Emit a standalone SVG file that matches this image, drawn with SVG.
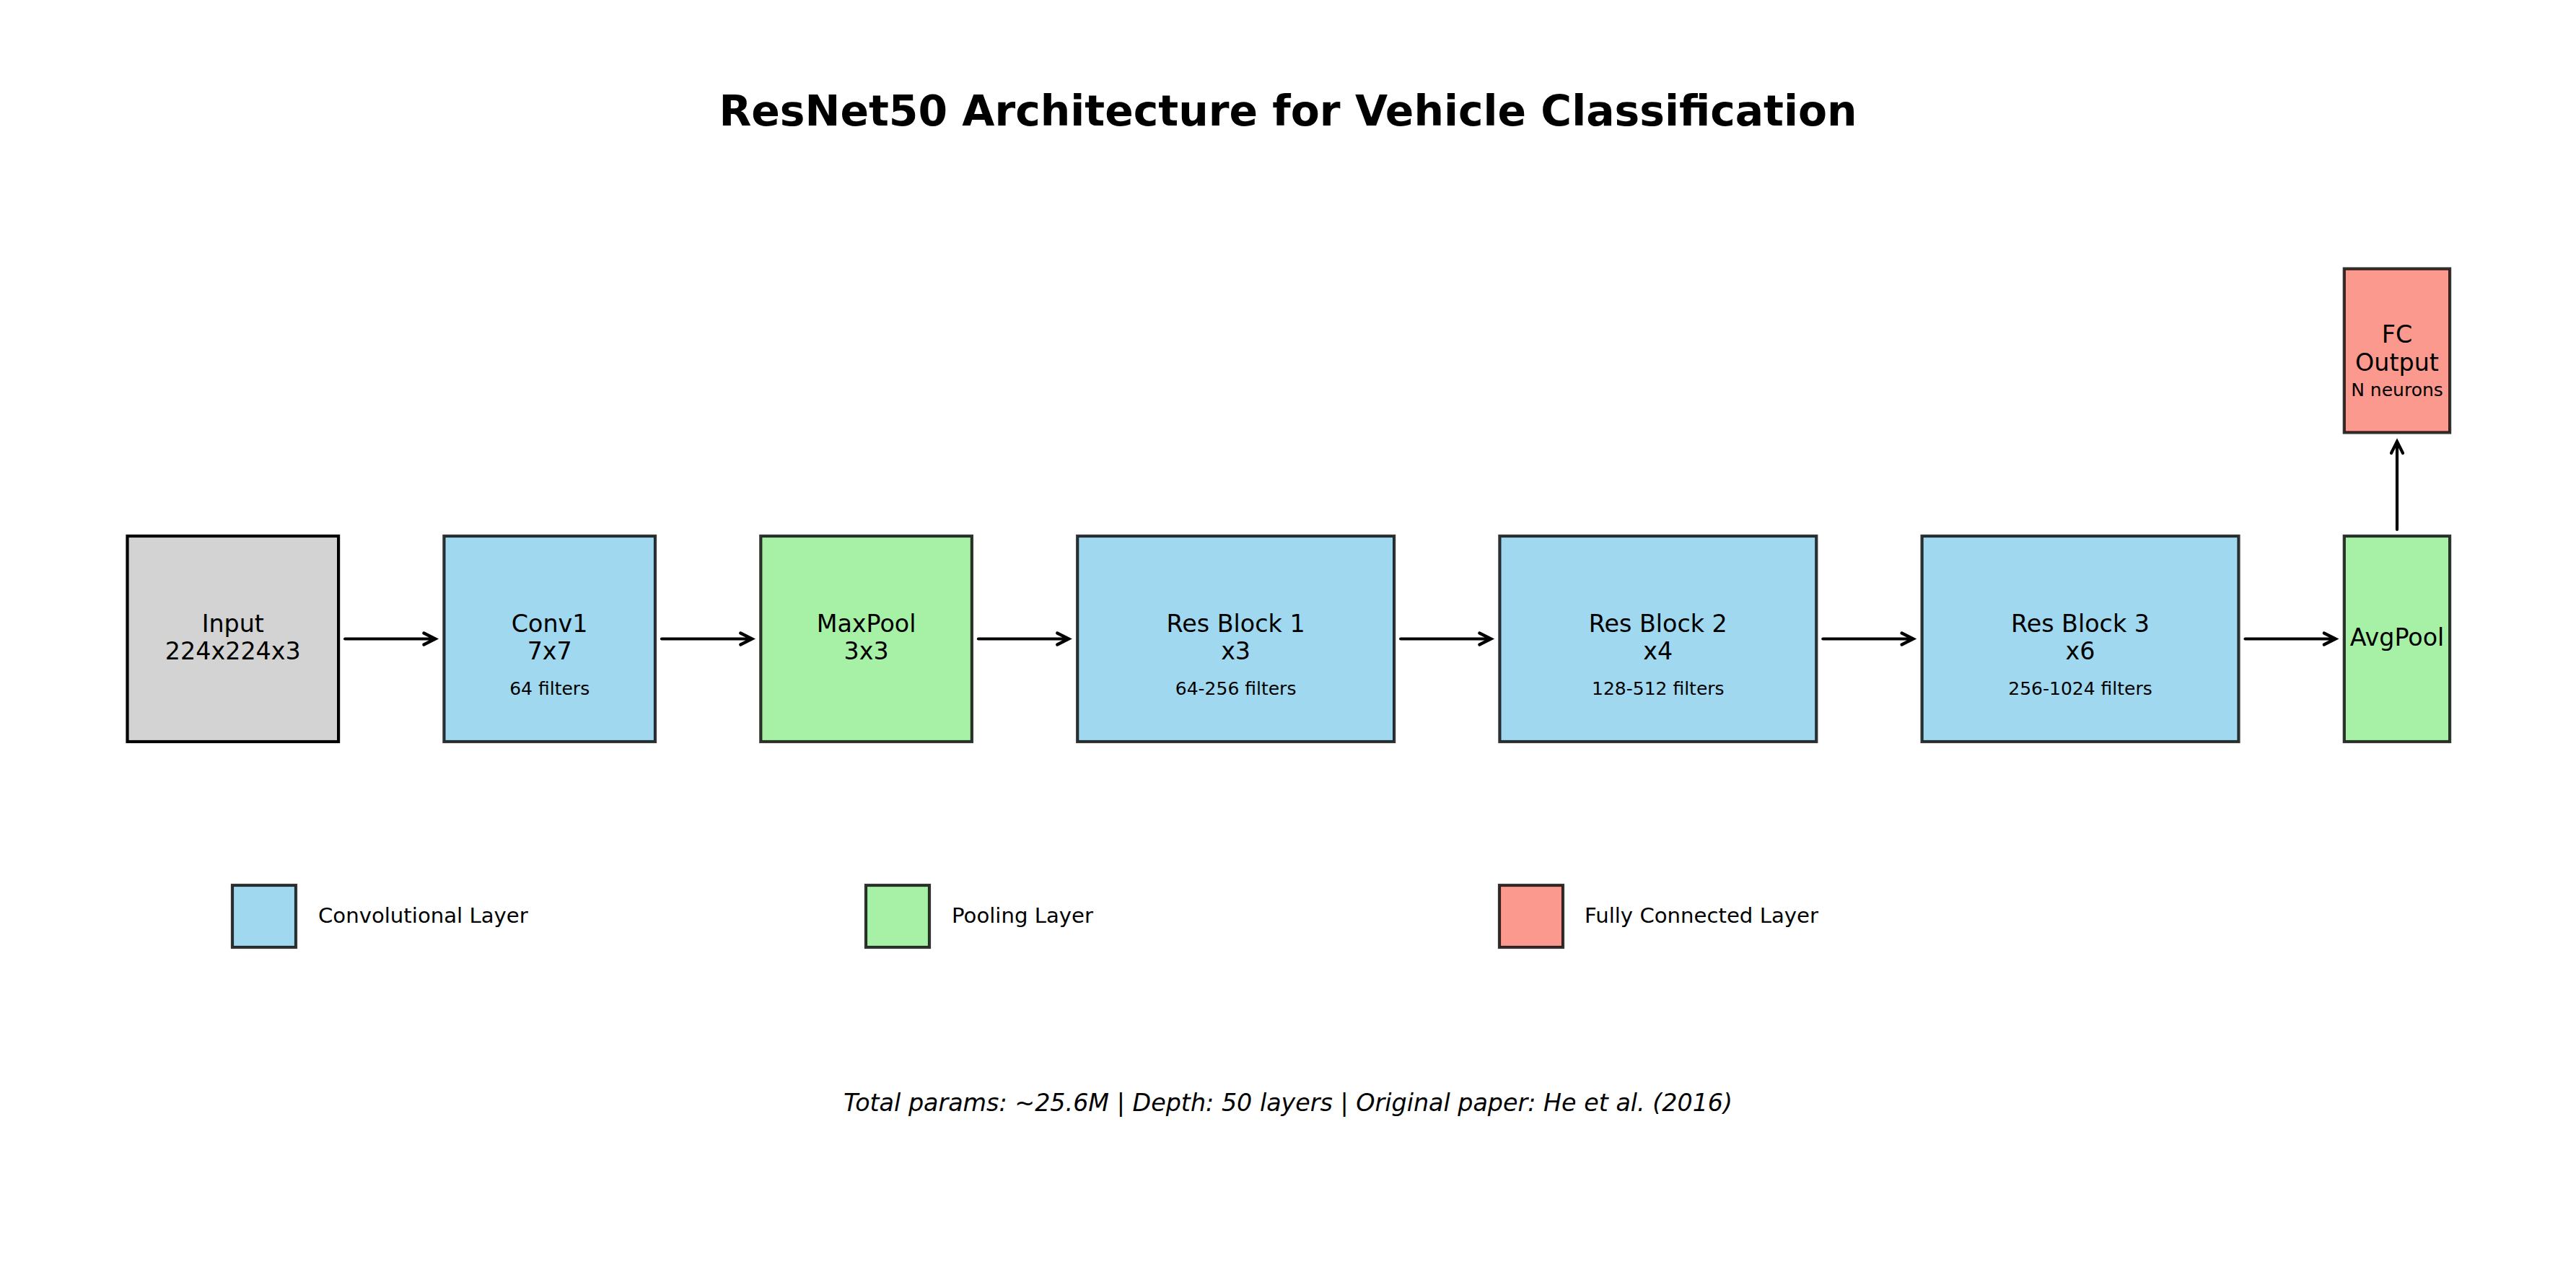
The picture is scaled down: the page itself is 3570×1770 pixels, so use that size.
<svg xmlns="http://www.w3.org/2000/svg" width="3570" height="1770" viewBox="0 0 3570 1770">
<style>
text{font-family:"DejaVu Sans","Liberation Sans",sans-serif;fill:#000;text-anchor:middle}
.box{stroke:#000;stroke-opacity:0.8;stroke-width:4.2}
.inp{fill:#d3d3d3;stroke:#000;stroke-width:4.2}
.conv{fill:#9fd8ef}
.pool{fill:#a6f1a6}
.fc{fill:#fb998e}
.t8{font-size:33.33px}
.t6{font-size:25px}
.t7{font-size:29.17px;text-anchor:start}
.arr{fill:none;stroke:#000;stroke-width:4.2;stroke-linecap:round;stroke-linejoin:miter}
</style>
<rect width="3570" height="1770" fill="#fff"/>
<text x="1785" y="174" style="font-size:58.33px;font-weight:bold">ResNet50 Architecture for Vehicle Classification</text>

<g id="input">
<rect class="inp" x="176.5" y="743" width="292.6" height="285"/>
<text class="t8" x="322.8" y="875.5">Input</text>
<text class="t8" x="322.8" y="914">224x224x3</text>
</g>
<g id="conv1">
<rect class="box conv" x="615.4" y="743" width="292.6" height="285"/>
<text class="t8" x="761.7" y="875.5">Conv1</text>
<text class="t8" x="761.7" y="914">7x7</text>
<text class="t6" x="761.7" y="962.7">64 filters</text>
</g>
<g id="maxpool">
<rect class="box pool" x="1054.3" y="743" width="292.6" height="285"/>
<text class="t8" x="1200.6" y="875.5">MaxPool</text>
<text class="t8" x="1200.6" y="914">3x3</text>
</g>
<g id="res1">
<rect class="box conv" x="1493.2" y="743" width="438.9" height="285"/>
<text class="t8" x="1712.6" y="875.5">Res Block 1</text>
<text class="t8" x="1712.6" y="914">x3</text>
<text class="t6" x="1712.6" y="962.7">64-256 filters</text>
</g>
<g id="res2">
<rect class="box conv" x="2078.4" y="743" width="438.9" height="285"/>
<text class="t8" x="2297.8" y="875.5">Res Block 2</text>
<text class="t8" x="2297.8" y="914">x4</text>
<text class="t6" x="2297.8" y="962.7">128-512 filters</text>
</g>
<g id="res3">
<rect class="box conv" x="2663.6" y="743" width="438.9" height="285"/>
<text class="t8" x="2883" y="875.5">Res Block 3</text>
<text class="t8" x="2883" y="914">x6</text>
<text class="t6" x="2883" y="962.7">256-1024 filters</text>
</g>
<g id="avgpool">
<rect class="box pool" x="3248.8" y="743" width="146.3" height="285"/>
<text class="t8" x="3322" y="894.5">AvgPool</text>
</g>
<g id="fc">
<rect class="box fc" x="3248.8" y="372.5" width="146.3" height="227"/>
<text class="t8" x="3322" y="475">FC</text>
<text class="t8" x="3322" y="514">Output</text>
<text class="t6" x="3322" y="549">N neurons</text>
</g>

<g id="connectors">
<path class="arr" d="M478.1,885.5H603.4M587.4,877.5L603.4,885.5L587.4,893.5"/>
<path class="arr" d="M917,885.5H1042.3M1026.3,877.5L1042.3,885.5L1026.3,893.5"/>
<path class="arr" d="M1355.9,885.5H1481.2M1465.2,877.5L1481.2,885.5L1465.2,893.5"/>
<path class="arr" d="M1941.1,885.5H2066.4M2050.4,877.5L2066.4,885.5L2050.4,893.5"/>
<path class="arr" d="M2526.3,885.5H2651.6M2635.6,877.5L2651.6,885.5L2635.6,893.5"/>
<path class="arr" d="M3111.5,885.5H3236.8M3220.8,877.5L3236.8,885.5L3220.8,893.5"/>
<path class="arr" d="M3322,734V612M3314,628L3322,612L3330,628"/>
</g>

<g id="legend">
<rect class="box conv" x="322" y="1227" width="88" height="86"/>
<text class="t7" x="441" y="1279">Convolutional Layer</text>
<rect class="box pool" x="1200" y="1227" width="88" height="86"/>
<text class="t7" x="1319" y="1279">Pooling Layer</text>
<rect class="box fc" x="2078" y="1227" width="88" height="86"/>
<text class="t7" x="2196" y="1279">Fully Connected Layer</text>
</g>

<text class="t8" x="1785" y="1540" style="font-style:italic">Total params: ~25.6M | Depth: 50 layers | Original paper: He et al. (2016)</text>
</svg>
